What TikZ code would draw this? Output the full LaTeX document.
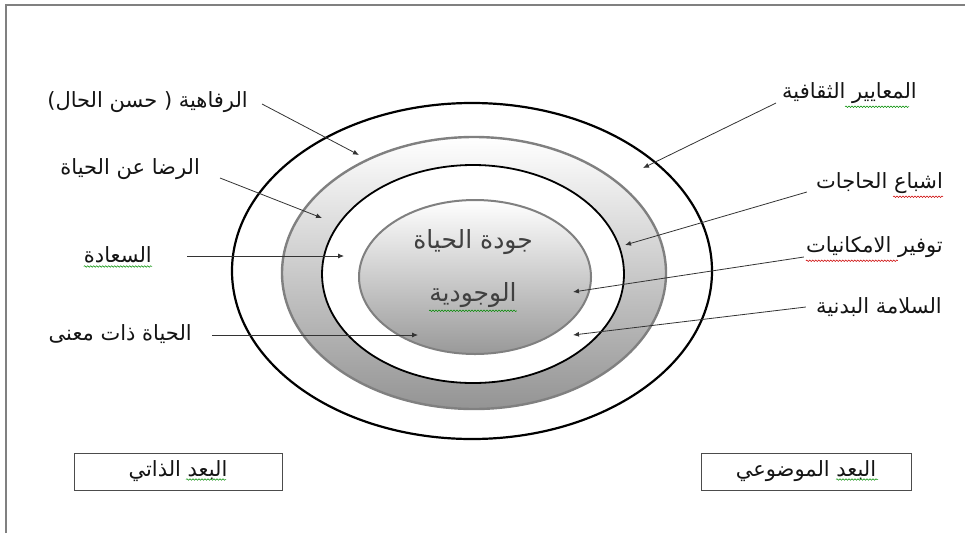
\documentclass[tikz,border=0pt]{standalone}
\usepackage{fontspec}
\usetikzlibrary{arrows.meta,decorations.pathmorphing}
\TeXXeTstate=1
\newfontfamily\arabicfont[Script=Arabic]{DejaVu Sans}
\newcommand\artext[1]{\beginR #1\endR}
\begin{document}
\begin{tikzpicture}[x=1pt,y=-1pt,
  lbl/.style={font=\arabicfont\fontsize{21}{24}\selectfont, text=black!92, inner sep=0pt},
  ctr/.style={font=\arabicfont\fontsize{25}{28}\selectfont, text=black!75, inner sep=0pt},
  boxlbl/.style={draw=black!70, line width=0.9pt, font=\arabicfont\fontsize{21}{24}\selectfont, text=black!92, minimum height=37pt, inner sep=0pt},
  conn/.style={draw=black!80, line width=0.8pt, -{Latex[length=6pt,width=5pt]}},
  frame/.style={draw=black!50, line width=1.5pt},
  squig/.style={decorate, decoration={snake, segment length=3pt, amplitude=0.8pt}, line width=0.5pt},
  okmark/.style={squig, draw=green!55!black},
  errmark/.style={squig, draw=red!80!black}]
\useasboundingbox (0,0) rectangle (965,533);
\draw[frame] (6,533) -- (6,5) -- (965,5);
% rings
\draw[black, line width=2.2pt] (472,271) ellipse [x radius=240pt, y radius=168pt];
\path[draw=black!50, line width=2.4pt, top color=white, bottom color=black!42] (474,273) ellipse [x radius=192pt, y radius=136pt];
\draw[black, line width=1.8pt, fill=white] (473,274) ellipse [x radius=151pt, y radius=109pt];
\path[draw=black!50, line width=2pt, top color=white, bottom color=black!40] (475,277) ellipse [x radius=116pt, y radius=77pt];
% centre text
\node[ctr] (c1) at (473,242) {\artext{جودة الحياة}};
\node[ctr] (c2) at (473,295) {\artext{الوجودية}};
% left labels
\node[lbl, anchor=east] (L1) at (248,102) {\artext{الرفاهية ^^^^200f( حسن الحال)}};
\node[lbl, anchor=east] (L2) at (200,169) {\artext{الرضا عن الحياة}};
\node[lbl, anchor=east] (L3) at (152,255) {\artext{السعادة}};
\node[lbl, anchor=east] (L4) at (192,334) {\artext{الحياة ذات معنى}};
% right labels
\node[lbl, anchor=east] (R1) at (917,93) {\artext{المعايير الثقافية}};
\node[lbl, anchor=east] (R2) at (943,183) {\artext{اشباع الحاجات}};
\node[lbl, anchor=east] (R3) at (943,247) {\artext{توفير الامكانيات}};
\node[lbl, anchor=east] (R4) at (942,307) {\artext{السلامة البدنية}};
% arrow tips
\coordinate (t1) at (359,155);
\coordinate (t2) at (322,218);
\coordinate (t3) at (344,256);
\coordinate (t4) at (418,335);
\coordinate (t5) at (643,168);
\coordinate (t6) at (625,245);
\coordinate (t7) at (573,292);
\coordinate (t8) at (573,335);
\draw[conn] ([shift={(14,2)}]L1.east) -- (t1);
\draw[conn] ([shift={(20,9)}]L2.east) -- (t2);
\draw[conn] ([shift={(35,1)}]L3.east) -- (t3);
\draw[conn] ([shift={(20,1)}]L4.east) -- (t4);
\draw[conn] ([shift={(-6,10)}]R1.west) -- (t5);
\draw[conn] ([shift={(-9,9)}]R2.west) -- (t6);
\draw[conn] ([shift={(-2,10)}]R3.west) -- (t7);
\draw[conn] ([shift={(-10,0)}]R4.west) -- (t8);
% boxes
\node[boxlbl, minimum width=208pt] (B1) at (178,471.5) {\artext{البعد الذاتي}};
\node[boxlbl, minimum width=210pt] (B2) at (806,471.5) {\artext{البعد الموضوعي}};
% spell-check underlines
\draw[okmark] ([shift={(0,3)}]L3.south west) -- ([shift={(0,3)}]L3.south east);
\draw[okmark] ([shift={(-72,3)}]R1.south east) -- ([shift={(-8,3)}]R1.south east);
\draw[errmark] ([shift={(-50,3)}]R2.south east) -- ([shift={(0,3)}]R2.south east);
\draw[errmark] ([shift={(0,3)}]R3.south west) -- ([shift={(92,3)}]R3.south west);
\draw[okmark] ([shift={(0,3)}]c2.south west) -- ([shift={(0,3)}]c2.south east);
\draw[okmark] ([shift={(8,8)}]B1.center) -- ([shift={(48,8)}]B1.center);
\draw[okmark] ([shift={(30,8)}]B2.center) -- ([shift={(72,8)}]B2.center);
\end{tikzpicture}
\end{document}
